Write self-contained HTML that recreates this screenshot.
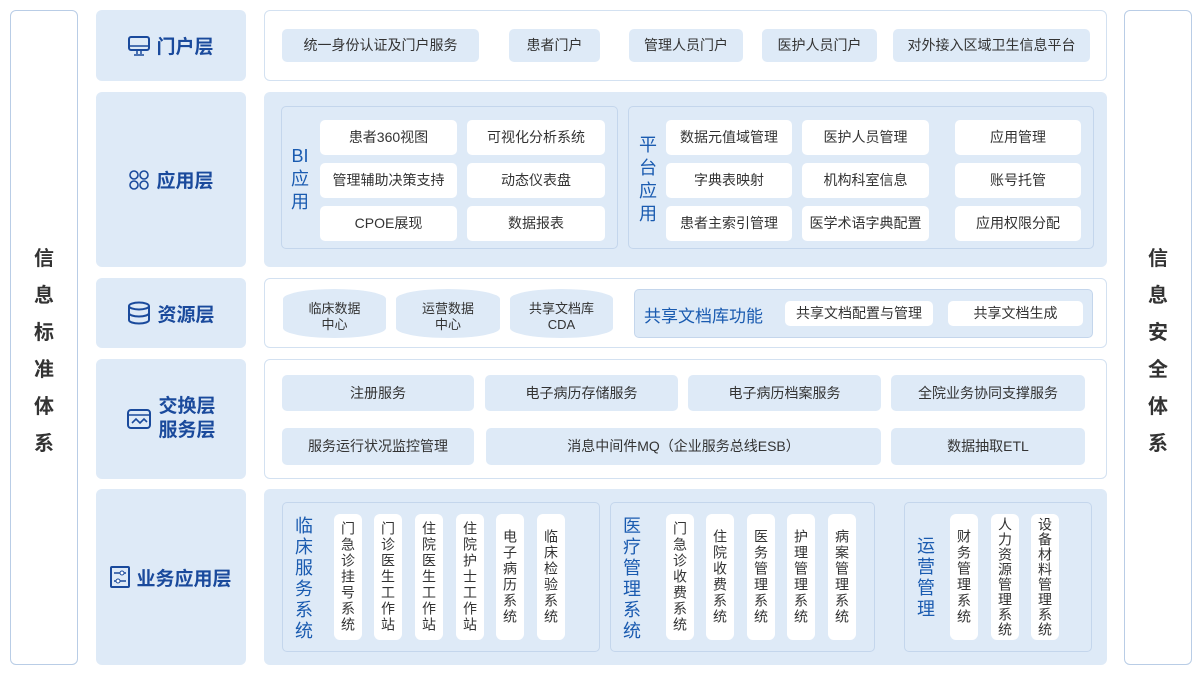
<!DOCTYPE html>
<html><head><meta charset="utf-8"><style>
*{margin:0;padding:0;box-sizing:border-box}
body{width:1200px;height:693px;background:#fff;position:relative;overflow:hidden;font-family:"Liberation Sans","Noto Sans CJK SC",sans-serif;color:#333}
.a{position:absolute}
.side{border:1.5px solid #b9cde6;border-radius:6px;background:#fff}
.side span{position:absolute;left:0;width:100%;text-align:center;font-size:20px;font-weight:bold;color:#333;line-height:37px}
.lab{background:#deeaf7;border-radius:6px;display:flex;align-items:center;justify-content:center;color:#1a4a9c;font-weight:bold;font-size:19px}
.lab svg{margin-right:6px}
.pw{background:#fff;border:1.5px solid #d3e1f1;border-radius:6px}
.pb{background:#deeaf7;border-radius:6px}
.box{border:1.5px solid #c4d6ec;border-radius:5px}
.c{border-radius:5px;display:flex;align-items:center;justify-content:center;font-size:14px;color:#333;text-align:center;line-height:17px}
.cb{background:#deeaf7}
.cw{background:#fff}
.v{writing-mode:vertical-rl;text-orientation:upright;font-size:14px;letter-spacing:2px;border-radius:6px;background:#fff;display:flex;align-items:center;justify-content:center;color:#333}
.vt{writing-mode:vertical-rl;text-orientation:upright;font-size:18px;color:#1a5bb0;letter-spacing:3px}
.cy{position:absolute;background:#deeaf7;border-radius:50%/10px;display:flex;align-items:center;justify-content:center;text-align:center;font-size:13px;line-height:16px;padding-top:6px}
</style></head><body>
<div class="a side" style="left:10px;top:10px;width:68px;height:655px">
<span style="top:230px">信</span><span style="top:267px">息</span><span style="top:304px">标</span><span style="top:341px">准</span><span style="top:378px">体</span><span style="top:415px">系</span></div>
<div class="a side" style="left:1124px;top:10px;width:68px;height:655px">
<span style="top:230px">信</span><span style="top:267px">息</span><span style="top:304px">安</span><span style="top:341px">全</span><span style="top:378px">体</span><span style="top:415px">系</span></div>

<div class="a lab" style="left:96px;top:10px;width:150px;height:71px"><svg width="22" height="20" viewBox="0 0 22 20"><rect x="1" y="1" width="20" height="13" rx="2" fill="none" stroke="#1a4a9c" stroke-width="2"/><line x1="1" y1="10" x2="21" y2="10" stroke="#1a4a9c" stroke-width="1.5"/><path d="M9 14v4M13 14v4M6 19h10" stroke="#1a4a9c" stroke-width="1.5"/></svg>门户层</div>
<div class="a lab" style="left:96px;top:92px;width:150px;height:175px"><svg width="22" height="22" viewBox="0 0 22 22"><circle cx="6" cy="6" r="4" fill="none" stroke="#1a4a9c" stroke-width="1.6"/><circle cx="16" cy="6" r="4" fill="none" stroke="#1a4a9c" stroke-width="1.6"/><circle cx="6" cy="16" r="4" fill="none" stroke="#1a4a9c" stroke-width="1.6"/><circle cx="16" cy="16" r="4" fill="none" stroke="#1a4a9c" stroke-width="1.6"/></svg>应用层</div>
<div class="a lab" style="left:96px;top:278px;width:150px;height:70px"><svg width="24" height="24" viewBox="0 0 24 24"><ellipse cx="12" cy="5" rx="10" ry="3.5" fill="none" stroke="#1a4a9c" stroke-width="2"/><path d="M2 5v14c0 2 4.5 3.5 10 3.5s10-1.5 10-3.5V5M2 12c0 2 4.5 3.5 10 3.5s10-1.5 10-3.5" fill="none" stroke="#1a4a9c" stroke-width="2"/></svg>资源层</div>
<div class="a lab" style="left:96px;top:359px;width:150px;height:120px;line-height:24px"><svg width="26" height="26" viewBox="0 0 26 26"><rect x="2" y="4" width="22" height="18" rx="3" fill="none" stroke="#1a4a9c" stroke-width="2"/><path d="M2 9h22M6 17l4-4 4 4 4-4 3 3" fill="none" stroke="#1a4a9c" stroke-width="1.6"/></svg><div>交换层<br>服务层</div></div>
<div class="a lab" style="left:96px;top:489px;width:150px;height:176px"><svg width="20" height="22" viewBox="0 0 20 22"><rect x="1" y="1" width="18" height="20" rx="1" fill="none" stroke="#1a4a9c" stroke-width="2"/><path d="M4 7h12M4 15h12" stroke="#1a4a9c" stroke-width="1.4"/><circle cx="12" cy="7" r="2" fill="#fff" stroke="#1a4a9c"/><circle cx="8" cy="15" r="2" fill="#fff" stroke="#1a4a9c"/></svg>业务应用层</div>

<!-- portal -->
<div class="a pw" style="left:264px;top:10px;width:843px;height:71px"></div>
<div class="a c cb" style="left:282px;top:29px;width:197px;height:33px">统一身份认证及门户服务</div>
<div class="a c cb" style="left:509px;top:29px;width:91px;height:33px">患者门户</div>
<div class="a c cb" style="left:629px;top:29px;width:114px;height:33px">管理人员门户</div>
<div class="a c cb" style="left:762px;top:29px;width:115px;height:33px">医护人员门户</div>
<div class="a c cb" style="left:893px;top:29px;width:197px;height:33px">对外接入区域卫生信息平台</div>

<!-- app -->
<div class="a pb" style="left:264px;top:92px;width:843px;height:175px"></div>
<div class="a box" style="left:281px;top:106px;width:337px;height:143px"></div>
<div class="a" style="left:289px;top:145px;width:22px;font-size:18px;color:#1a5bb0;line-height:23px;text-align:center">BI<br>应<br>用</div>
<div class="a c cw" style="left:320px;top:120px;width:137px;height:35px">患者360视图</div>
<div class="a c cw" style="left:467px;top:120px;width:138px;height:35px">可视化分析系统</div>
<div class="a c cw" style="left:320px;top:163px;width:137px;height:35px">管理辅助决策支持</div>
<div class="a c cw" style="left:467px;top:163px;width:138px;height:35px">动态仪表盘</div>
<div class="a c cw" style="left:320px;top:206px;width:137px;height:35px">CPOE展现</div>
<div class="a c cw" style="left:467px;top:206px;width:138px;height:35px">数据报表</div>
<div class="a box" style="left:628px;top:106px;width:466px;height:143px"></div>
<div class="a" style="left:637px;top:134px;width:22px;font-size:18px;color:#1a5bb0;line-height:23px;text-align:center">平<br>台<br>应<br>用</div>
<div class="a c cw" style="left:666px;top:120px;width:126px;height:35px">数据元值域管理</div>
<div class="a c cw" style="left:802px;top:120px;width:127px;height:35px">医护人员管理</div>
<div class="a c cw" style="left:955px;top:120px;width:126px;height:35px">应用管理</div>
<div class="a c cw" style="left:666px;top:163px;width:126px;height:35px">字典表映射</div>
<div class="a c cw" style="left:802px;top:163px;width:127px;height:35px">机构科室信息</div>
<div class="a c cw" style="left:955px;top:163px;width:126px;height:35px">账号托管</div>
<div class="a c cw" style="left:666px;top:206px;width:126px;height:35px">患者主索引管理</div>
<div class="a c cw" style="left:802px;top:206px;width:127px;height:35px">医学术语字典配置</div>
<div class="a c cw" style="left:955px;top:206px;width:126px;height:35px">应用权限分配</div>

<!-- resource -->
<div class="a pw" style="left:264px;top:278px;width:843px;height:70px"></div>
<div class="cy" style="left:283px;top:289px;width:103px;height:49px">临床数据<br>中心</div>
<div class="cy" style="left:396px;top:289px;width:104px;height:49px">运营数据<br>中心</div>
<div class="cy" style="left:510px;top:289px;width:103px;height:49px">共享文档库<br>CDA</div>
<div class="a pb box" style="left:634px;top:289px;width:459px;height:49px"></div>
<div class="a" style="left:644px;top:302px;font-size:17px;color:#1a5bb0">共享文档库功能</div>
<div class="a c cw" style="left:785px;top:301px;width:148px;height:25px">共享文档配置与管理</div>
<div class="a c cw" style="left:948px;top:301px;width:135px;height:25px">共享文档生成</div>

<!-- exchange -->
<div class="a pw" style="left:264px;top:359px;width:843px;height:120px"></div>
<div class="a c cb" style="left:282px;top:375px;width:192px;height:36px">注册服务</div>
<div class="a c cb" style="left:485px;top:375px;width:193px;height:36px">电子病历存储服务</div>
<div class="a c cb" style="left:688px;top:375px;width:193px;height:36px">电子病历档案服务</div>
<div class="a c cb" style="left:891px;top:375px;width:194px;height:36px">全院业务协同支撑服务</div>
<div class="a c cb" style="left:282px;top:428px;width:192px;height:37px">服务运行状况监控管理</div>
<div class="a c cb" style="left:486px;top:428px;width:395px;height:37px">消息中间件MQ（企业服务总线ESB）</div>
<div class="a c cb" style="left:891px;top:428px;width:194px;height:37px">数据抽取ETL</div>

<!-- business -->
<div class="a pb" style="left:264px;top:489px;width:843px;height:176px"></div>
<div class="a box" style="left:282px;top:502px;width:318px;height:150px"></div>
<div class="a vt" style="left:290px;top:516px">临床服务系统</div>
<div class="a v" style="left:334px;top:514px;width:28px;height:126px">门急诊挂号系统</div>
<div class="a v" style="left:374px;top:514px;width:28px;height:126px">门诊医生工作站</div>
<div class="a v" style="left:415px;top:514px;width:28px;height:126px">住院医生工作站</div>
<div class="a v" style="left:456px;top:514px;width:28px;height:126px">住院护士工作站</div>
<div class="a v" style="left:496px;top:514px;width:28px;height:126px">电子病历系统</div>
<div class="a v" style="left:537px;top:514px;width:28px;height:126px">临床检验系统</div>
<div class="a box" style="left:610px;top:502px;width:265px;height:150px"></div>
<div class="a vt" style="left:618px;top:516px">医疗管理系统</div>
<div class="a v" style="left:666px;top:514px;width:28px;height:126px">门急诊收费系统</div>
<div class="a v" style="left:706px;top:514px;width:28px;height:126px">住院收费系统</div>
<div class="a v" style="left:747px;top:514px;width:28px;height:126px">医务管理系统</div>
<div class="a v" style="left:787px;top:514px;width:28px;height:126px">护理管理系统</div>
<div class="a v" style="left:828px;top:514px;width:28px;height:126px">病案管理系统</div>
<div class="a box" style="left:904px;top:502px;width:188px;height:150px"></div>
<div class="a vt" style="left:912px;top:536px">运营管理</div>
<div class="a v" style="left:950px;top:514px;width:28px;height:126px">财务管理系统</div>
<div class="a v" style="left:991px;top:514px;width:28px;height:126px;letter-spacing:1px">人力资源管理系统</div>
<div class="a v" style="left:1031px;top:514px;width:28px;height:126px;letter-spacing:1px">设备材料管理系统</div>
</body></html>
